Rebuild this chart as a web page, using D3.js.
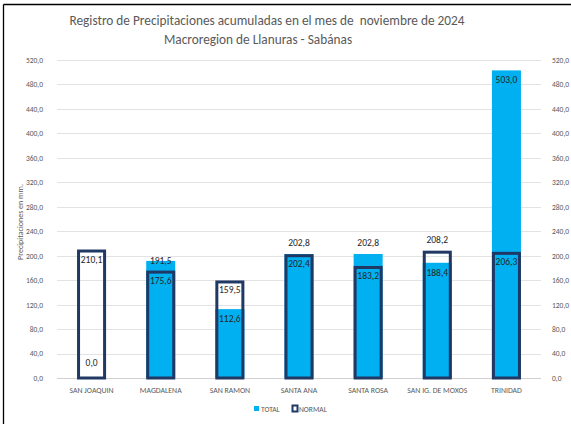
<!DOCTYPE html>
<html>
<head>
<meta charset="utf-8">
<script src="https://cdn.jsdelivr.net/npm/d3@7"></script>
<style>
  body { margin: 0; background: #fff; }
  text { font-family: Calibri, Carlito, "Liberation Sans", Arial, sans-serif; }
</style>
</head>
<body>
<div id="chart"></div>
<script>
////////// Data /////////////
const categories = ["SAN JOAQUIN", "MAGDALENA", "SAN RAMON", "SANTA ANA", "SANTA ROSA", "SAN IG. DE MOXOS", "TRINIDAD"];
const totalValues = [0.0, 191.5, 112.6, 202.8, 202.8, 188.4, 503.0];
const normalValues = [210.1, 175.6, 159.5, 202.4, 183.2, 208.2, 206.3];
const yTicks = [0, 40, 80, 120, 160, 200, 240, 280, 320, 360, 400, 440, 480, 520];
// which label sits above its bar ("TOTAL"/"NORMAL"), "edge" = TOTAL label on its top edge
const outsideLabel = ["", "edge", "", "TOTAL", "TOTAL", "NORMAL", ""];

const width = 571;
const height = 424;
const margin = { top: 60, right: 30, bottom: 46, left: 57 };
const plotRight = 541;

const svg = d3.select("#chart").append("svg")
  .attr("width", width)
  .attr("height", height);

// outer frame (only top and left visible in the crop)
svg.append("line").attr("x1", 3.5).attr("x2", width).attr("y1", 4.5).attr("y2", 4.5)
  .attr("stroke", "#000").attr("stroke-width", 1.3);
svg.append("line").attr("x1", 3.5).attr("x2", 3.5).attr("y1", 4.5).attr("y2", height)
  .attr("stroke", "#000").attr("stroke-width", 1.3);

const x = d3.scaleBand()
  .domain(categories)
  .range([margin.left, plotRight])
  .paddingInner(0.58)
  .paddingOuter(0.29);

const y = d3.scaleLinear()
  .domain([0, 520])
  .range([378, 60]);

const fmt = v => d3.format(".1f")(v).replace(".", ",");

// gridlines
svg.append("g")
  .selectAll("line")
  .data(yTicks)
  .enter().append("line")
  .attr("x1", margin.left)
  .attr("x2", plotRight)
  .attr("y1", d => Math.round(y(d)) + 0.5)
  .attr("y2", d => Math.round(y(d)) + 0.5)
  .attr("stroke", d => d === 0 ? "#d0d0d0" : "#e3e3e3")
  .attr("stroke-width", 1);

// left axis
const yLeft = svg.append("g")
  .attr("transform", `translate(${margin.left - 6},0)`)
  .call(d3.axisLeft(y).tickValues(yTicks).tickFormat(fmt).tickSize(0).tickPadding(8));
yLeft.select(".domain").remove();
yLeft.selectAll("text").attr("fill", "#595959").style("font-size", "7.5px");

// right axis
const yRight = svg.append("g")
  .attr("transform", `translate(${plotRight + 3},0)`)
  .call(d3.axisRight(y).tickValues(yTicks).tickFormat(fmt).tickSize(0).tickPadding(8));
yRight.select(".domain").remove();
yRight.selectAll("text").attr("fill", "#595959").style("font-size", "7.5px");

// category axis
const xAxis = svg.append("g")
  .attr("transform", `translate(0,${y(0)})`)
  .call(d3.axisBottom(x).tickSize(0).tickPadding(9));
xAxis.select(".domain").remove();
xAxis.selectAll("text").attr("fill", "#595959").style("font-size", "7.8px");

// TOTAL bars
svg.append("g")
  .selectAll("rect")
  .data(categories)
  .enter().append("rect")
  .attr("x", d => x(d))
  .attr("width", x.bandwidth())
  .attr("y", (d, i) => y(totalValues[i]))
  .attr("height", (d, i) => y(0) - y(totalValues[i]))
  .attr("fill", "#00b0f0");

// NORMAL bars (outline only)
svg.append("g")
  .selectAll("rect")
  .data(categories)
  .enter().append("rect")
  .attr("x", d => x(d) + 1.5)
  .attr("width", x.bandwidth() - 3)
  .attr("y", (d, i) => y(normalValues[i]) + 1.5)
  .attr("height", (d, i) => y(0) - y(normalValues[i]) - 1.5)
  .attr("fill", "none")
  .attr("stroke", "#203864")
  .attr("stroke-width", 3);

// value labels
function labelY(series, i, v) {
  if (outsideLabel[i] === series) return y(v) - 8;
  if (outsideLabel[i] === "edge" && series === "TOTAL") return y(v) + 3;
  if (v === 0) return y(v) - 12;
  return y(v) + 13;
}
const labels = [];
categories.forEach((c, i) => {
  labels.push({ c, v: totalValues[i], yy: labelY("TOTAL", i, totalValues[i]) });
  labels.push({ c, v: normalValues[i], yy: labelY("NORMAL", i, normalValues[i]) });
});
svg.append("g")
  .selectAll("text")
  .data(labels)
  .enter().append("text")
  .attr("x", d => x(d.c) + x.bandwidth() / 2)
  .attr("y", d => d.yy)
  .attr("text-anchor", "middle")
  .attr("fill", "#262626")
  .style("font-size", "9.5px")
  .text(d => fmt(d.v));

// title
svg.append("text")
  .attr("x", 267).attr("y", 25)
  .attr("text-anchor", "middle")
  .attr("fill", "#595959")
  .style("font-size", "13.3px")
  .style("white-space", "pre")
  .text("Registro de Precipitaciones acumuladas en el mes de  noviembre de 2024");
svg.append("text")
  .attr("x", 258).attr("y", 44)
  .attr("text-anchor", "middle")
  .attr("fill", "#595959")
  .style("font-size", "13.3px")
  .text("Macroregion de Llanuras - Sabánas");

// y axis title
svg.append("text")
  .attr("transform", "translate(23,222) rotate(-90)")
  .attr("text-anchor", "middle")
  .attr("fill", "#595959")
  .style("font-size", "8px")
  .text("Precipitaciones en mm.");

// legend
const legend = svg.append("g").attr("transform", "translate(254,410)");
legend.append("rect").attr("x", 0).attr("y", -4).attr("width", 5).attr("height", 5).attr("fill", "#00b0f0");
legend.append("text").attr("x", 7).attr("y", 1.5).attr("fill", "#595959").style("font-size", "7.5px").text("TOTAL");
legend.append("rect").attr("x", 38.5).attr("y", -4.5).attr("width", 5).attr("height", 6)
  .attr("fill", "#fff").attr("stroke", "#203864").attr("stroke-width", 2);
legend.append("text").attr("x", 45).attr("y", 1.5).attr("fill", "#595959").style("font-size", "7.5px").text("NORMAL");
</script>
</body>
</html>
